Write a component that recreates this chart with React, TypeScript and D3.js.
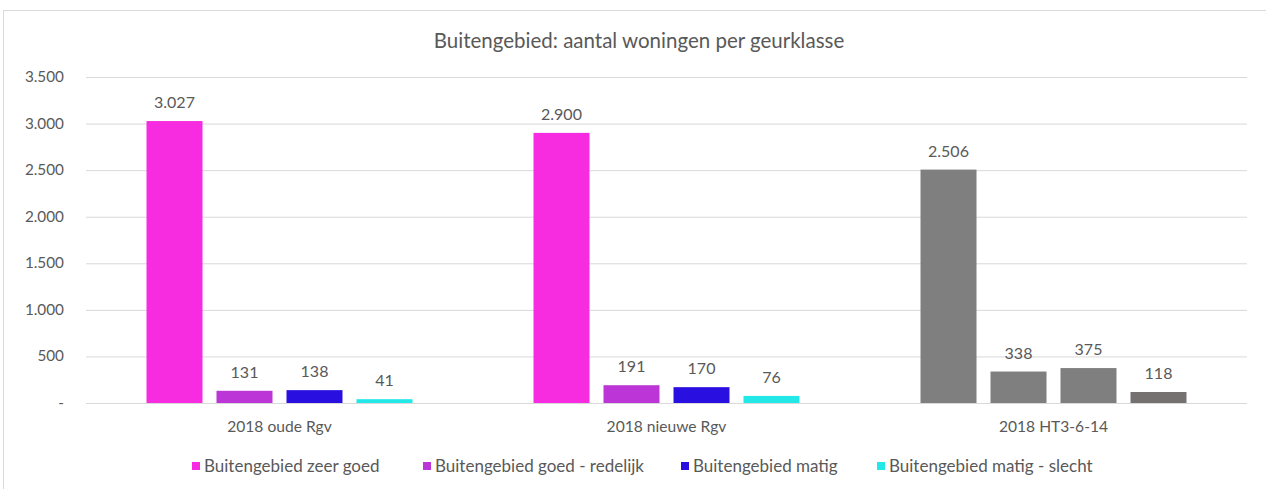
import React from 'react';
import * as d3 from 'd3';

const categories = ['2018 oude Rgv', '2018 nieuwe Rgv', '2018 HT3-6-14'];
const seriesNames = [
  'Buitengebied zeer goed',
  'Buitengebied goed - redelijk',
  'Buitengebied matig',
  'Buitengebied matig - slecht',
];
const seriesColors = ['#F72CE0', '#BC35D6', '#2A10E0', '#22E8E8'];
const zeerGoed = [3027, 2900, 2506];
const goedRedelijk = [131, 191, 338];
const matig = [138, 170, 375];
const matigSlecht = [41, 76, 118];
const yTickValues = [0, 500, 1000, 1500, 2000, 2500, 3000, 3500];
// the last group is drawn in grey in the original
const groupOverride = [null, null, ['#7F7F7F', '#7F7F7F', '#7F7F7F', '#767171']];

const font = 'Lato, "Open Sans", sans-serif';
const textColor = '#595959';

const App = () => {
  const width = 1266;
  const height = 489;
  const margin = { l: 86, r: 19, t: 77, b: 86 };

  const values = [zeerGoed, goedRedelijk, matig, matigSlecht];

  const x0 = d3.scaleBand()
    .domain(categories)
    .range([margin.l, width - margin.r])
    .paddingInner(0.3127)
    .paddingOuter(0.3127 / 2);

  const x1 = d3.scaleBand()
    .domain(seriesNames)
    .range([0, x0.bandwidth()])
    .paddingInner(0.2);

  const y = d3.scaleLinear()
    .domain([0, 3500])
    .range([height - margin.b, margin.t]);

  const fmt = (v: number) => (v === 0 ? '-' : d3.format(',')(v).replace(/,/g, '.'));

  const legendX = [192, 423, 681, 877];

  return (
    <div style={{ position: 'fixed', left: 0, top: 0 }}>
      <svg width={width} height={height} style={{ display: 'block', background: '#fff' }}>
        <rect x={3.5} y={10.5} width={1280} height={500} fill="#fff" stroke="#D9D9D9" strokeWidth={1} />
        <text x={639} y={48} textAnchor="middle" fontFamily={font} fontSize={20.5} fill={textColor}>
          Buitengebied: aantal woningen per geurklasse
        </text>

        <g>
          {yTickValues.map(t => (
            <g key={t}>
              <line x1={margin.l} x2={width - margin.r} y1={y(t) + 0.5} y2={y(t) + 0.5}
                stroke="#D9D9D9" strokeWidth={1} />
              <text x={64} y={y(t) + 5} textAnchor="end" fontFamily={font} fontSize={15.3} fill={textColor}>
                {fmt(t)}
              </text>
            </g>
          ))}
        </g>

        <g>
          {categories.map((c, ci) => (
            <g key={c} transform={`translate(${x0(c)},0)`}>
              {seriesNames.map((s, si) => {
                const v = values[si][ci];
                const over = groupOverride[ci];
                const fill = over ? over[si] : seriesColors[si];
                return (
                  <g key={s}>
                    <rect x={x1(s)} y={y(v)} width={x1.bandwidth()} height={y(0) - y(v)} fill={fill} />
                    <text x={(x1(s) as number) + x1.bandwidth() / 2} y={y(v) - 13}
                      textAnchor="middle" fontFamily={font} fontSize={16} fill={textColor}>
                      {fmt(v)}
                    </text>
                  </g>
                );
              })}
            </g>
          ))}
        </g>

        <g>
          {categories.map(c => (
            <text key={c} x={(x0(c) as number) + x0.bandwidth() / 2} y={432} textAnchor="middle"
              fontFamily={font} fontSize={15.6} fill={textColor}>
              {c}
            </text>
          ))}
        </g>

        <g>
          {seriesNames.map((s, i) => (
            <g key={s} transform={`translate(${legendX[i]},466)`}>
              <rect x={0} y={-4} width={8} height={8} fill={seriesColors[i]} />
              <text x={12} y={5.5} fontFamily={font} fontSize={17} fill={textColor}>{s}</text>
            </g>
          ))}
        </g>
      </svg>
    </div>
  );
};

export default App;
